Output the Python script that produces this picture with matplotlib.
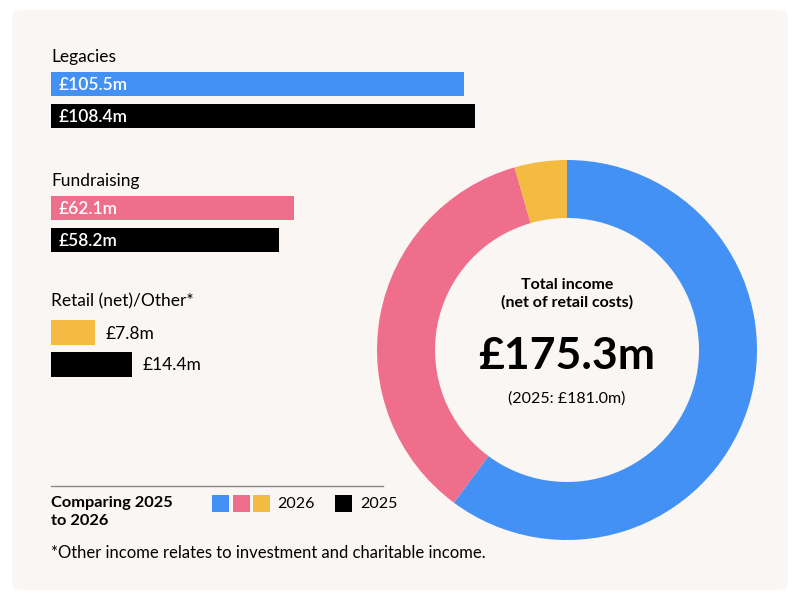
import matplotlib.pyplot as plt
from matplotlib.patches import FancyBboxPatch, Rectangle

plt.rcParams['font.family'] = ['Lato', 'DejaVu Sans']

# data (£m)
categories = ['Legacies', 'Fundraising', 'Retail (net)/Other*']
income_2026 = [105.5, 62.1, 7.8]
income_2025 = [108.4, 58.2, 14.4]
total_2026 = '£175.3m'
total_2025 = '(2025: £181.0m)'
footnote = '*Other income relates to investment and charitable income.'

colors = ['#4391F5', '#EE6E8B', '#F4BB42']
black = '#000000'
panel = '#FAF6F3'
W, H = 800, 600


def fx(x):
    return x / W


def fy(y):
    return 1 - y / H


fig = plt.figure(figsize=(8, 6), dpi=100)
fig.patch.set_facecolor('white')
fig.patches.append(FancyBboxPatch((fx(12), fy(590)), fx(776), 580 / H,
                                  boxstyle='round,pad=0,rounding_size=0.012',
                                  transform=fig.transFigure, facecolor=panel,
                                  edgecolor='none', zorder=-10))

# bars: legacies & fundraising share a scale
scale = 3.91  # px per £m
ax = fig.add_axes([fx(51), fy(252), fx(440), 180 / H])
ax.set_xlim(0, 440 / scale)
ax.set_ylim(252, 72)
ax.axis('off')
group_top = [72, 196]
for i in range(2):
    y26 = group_top[i] + 12
    y25 = group_top[i] + 44
    ax.barh(y26, income_2026[i], height=24, color=colors[i])
    ax.barh(y25, income_2025[i], height=24, color=black)
    ax.text(2, y26 + 1, f'£{income_2026[i]}m', color='white', fontsize=12.5,
            fontweight='semibold', va='center', ha='left')
    ax.text(2, y25 + 1, f'£{income_2025[i]}m', color='white', fontsize=12.5,
            fontweight='semibold', va='center', ha='left')
    fig.text(fx(51), fy(group_top[i] - 15), categories[i], fontsize=12.5,
             va='center', ha='left')

# retail/other (small values, own scale)
scale_r = 5.6
axr = fig.add_axes([fx(51), fy(377), fx(200), 57 / H])
axr.set_xlim(0, 200 / scale_r)
axr.set_ylim(377, 320)
axr.axis('off')
axr.barh(332.5, income_2026[2], height=25, color=colors[2])
axr.barh(364.5, income_2025[2], height=25, color=black)
axr.text(income_2026[2] + 2, 333.5, f'£{income_2026[2]}m', fontsize=12.5,
         va='center', ha='left')
axr.text(income_2025[2] + 2, 365.5, f'£{income_2025[2]}m', fontsize=12.5,
         va='center', ha='left')
fig.text(fx(51), fy(301), categories[2], fontsize=12.5, va='center', ha='left')

# donut
axd = fig.add_axes([fx(377), fy(540), fx(380), 380 / H])
axd.pie(income_2026, colors=colors, startangle=90, counterclock=False,
        radius=1, wedgeprops=dict(width=58 / 190, edgecolor='none'))
axd.set_xlim(-1, 1)
axd.set_ylim(-1, 1)
axd.text(0, 0.342, 'Total income', ha='center', va='center', fontsize=11.5,
         fontweight='bold')
axd.text(0, 0.253, '(net of retail costs)', ha='center', va='center',
         fontsize=11.5, fontweight='bold')
axd.text(0, -0.03, total_2026, ha='center', va='center', fontsize=32,
         fontweight='bold')
axd.text(0, -0.253, total_2025, ha='center', va='center', fontsize=11.5)

# legend
fig.add_artist(plt.Line2D([fx(51), fx(383)], [fy(486), fy(486)],
                          color='#8a8a8a', lw=1))
fig.text(fx(51), fy(503), 'Comparing 2025', fontsize=11.8, fontweight='bold',
         va='center', ha='left')
fig.text(fx(51), fy(521), 'to 2026', fontsize=11.8, fontweight='bold',
         va='center', ha='left')
for k, c in enumerate(colors):
    fig.patches.append(Rectangle((fx(212 + 20.5 * k), fy(512)), fx(17), 17 / H,
                                 transform=fig.transFigure, facecolor=c,
                                 edgecolor='none'))
fig.text(fx(277), fy(504), '2026', fontsize=11.5, va='center', ha='left')
fig.patches.append(Rectangle((fx(335), fy(512)), fx(17), 17 / H,
                             transform=fig.transFigure, facecolor=black,
                             edgecolor='none'))
fig.text(fx(360), fy(504), '2025', fontsize=11.5, va='center', ha='left')

fig.text(fx(51), fy(553), footnote, fontsize=12, va='center', ha='left')

fig.savefig('out.png', dpi=100, facecolor=fig.get_facecolor())
